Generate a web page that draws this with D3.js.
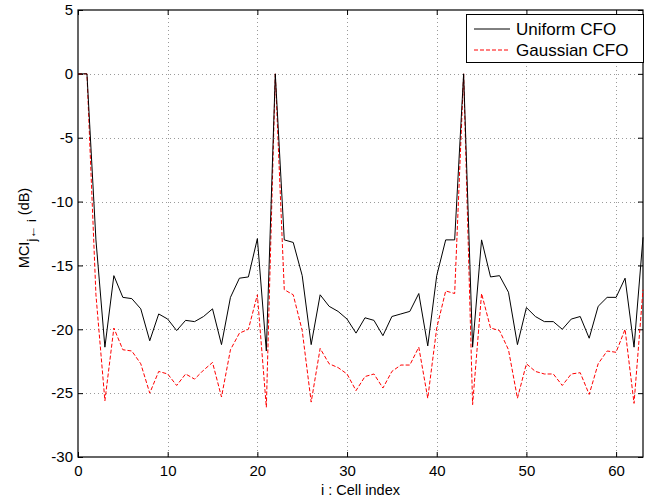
<!DOCTYPE html>
<html lang="en">
<head>
  <meta charset="UTF-8">
  <title></title>
  <style>
    html, body {
      margin: 0;
      background: #fff;
      overflow: hidden;
      width: 100%;
      height: 100%;
    }
    svg {
      font-family: "Liberation Sans", Arial, sans-serif;
    }
  </style>
</head>
<body>
  <svg width="656" height="504"></svg>
</body>
<script src="https://d3js.org/d3.v7.min.js"></script>
<script type="text/javascript">
  // cell index 0..63
  const cells = d3.range(0, 64)

  const uniform = [
    0, 0, -13.0, -21.4, -15.8, -17.5, -17.6, -18.4, -20.9, -18.8,
    -19.2, -20.1, -19.3, -19.4, -19.0, -18.4, -21.2, -17.5, -16.0, -15.9,
    -12.9, -21.7, 0, -13.0, -13.2, -15.8, -21.2, -17.3, -18.2, -18.6,
    -19.2, -20.3, -19.1, -19.3, -20.5, -19.0, -18.8, -18.6, -17.2, -21.3,
    -15.8, -13.0, -13.0, 0, -21.4, -13.0, -15.9, -15.8, -17.1, -21.2,
    -18.3, -19.0, -19.4, -19.4, -20.0, -19.2, -19.0, -20.7, -18.2, -17.5,
    -17.5, -16.0, -21.4, -12.8
  ]

  const gaussian = [
    0, 0, -17.3, -25.6, -19.9, -21.6, -21.7, -22.7, -25.0, -23.3,
    -23.5, -24.4, -23.5, -23.9, -23.2, -22.6, -25.3, -21.6, -20.3, -20.0,
    -17.3, -26.1, 0, -16.9, -17.3, -20.1, -25.7, -21.5, -22.7, -23.0,
    -23.5, -24.8, -23.7, -23.5, -24.6, -23.3, -22.8, -22.8, -21.4, -25.4,
    -19.9, -17.0, -17.2, 0, -25.9, -17.2, -19.9, -20.1, -21.6, -25.4,
    -22.7, -23.3, -23.5, -23.5, -24.4, -23.5, -23.4, -25.1, -22.7, -21.7,
    -21.8, -20.0, -25.8, -16.9
  ]

  const xTicks = [0, 10, 20, 30, 40, 50, 60]
  const yTicks = [5, 0, -5, -10, -15, -20, -25, -30]
  const seriesNames = ['Uniform CFO', 'Gaussian CFO']

  const svg = d3.select('svg')
  const pl = 78, pr = 643, pt = 10, pb = 457

  const x = d3.scaleLinear().domain([0, 63]).range([pl, pr])
  const y = d3.scaleLinear().domain([-30, 5]).range([pb, pt])

  // dotted grid
  const grid = svg.append('g')
  grid.selectAll('line.gx')
    .data(xTicks.filter(d => d > 0))
    .enter().append('line')
    .attr('x1', d => Math.round(x(d)) + 0.5).attr('x2', d => Math.round(x(d)) + 0.5)
    .attr('y1', pt).attr('y2', pb)
    .attr('stroke', '#555').attr('stroke-width', 0.6)
    .attr('stroke-dasharray', '1,3')
  grid.selectAll('line.gy')
    .data(yTicks.filter(d => d > -30 && d < 5))
    .enter().append('line')
    .attr('y1', d => Math.round(y(d)) + 0.5).attr('y2', d => Math.round(y(d)) + 0.5)
    .attr('x1', pl).attr('x2', pr)
    .attr('stroke', '#555').attr('stroke-width', 0.6)
    .attr('stroke-dasharray', '1,3')

  // axes (ticks inward, mirrored on top and right)
  const axisFont = g => g.selectAll('text')
    .attr('font-family', '"Liberation Sans", Arial, sans-serif')
    .attr('font-size', 15).attr('fill', '#000')

  svg.append('g')
    .attr('transform', `translate(0,${pb})`)
    .call(d3.axisBottom(x).tickValues(xTicks).tickSizeInner(-5).tickSizeOuter(0).tickPadding(8))
    .call(axisFont)
    .call(g => g.select('.domain').remove())

  svg.append('g')
    .attr('transform', `translate(0,${pt})`)
    .call(d3.axisTop(x).tickValues(xTicks).tickSizeInner(-5).tickSizeOuter(0).tickFormat(''))
    .call(g => g.select('.domain').remove())

  svg.append('g')
    .attr('transform', `translate(${pl},0)`)
    .call(d3.axisLeft(y).tickValues(yTicks).tickSizeInner(-5).tickSizeOuter(0).tickPadding(5)
      .tickFormat(d => String(d)))
    .call(axisFont)
    .call(g => g.select('.domain').remove())

  svg.append('g')
    .attr('transform', `translate(${pr},0)`)
    .call(d3.axisRight(y).tickValues(yTicks).tickSizeInner(-5).tickSizeOuter(0).tickFormat(''))
    .call(g => g.select('.domain').remove())

  svg.append('rect')
    .attr('x', pl).attr('y', pt)
    .attr('width', pr - pl).attr('height', pb - pt)
    .attr('fill', 'none').attr('stroke', '#000').attr('stroke-width', 1.2)

  // lines
  const line = data => d3.line()
    .x(d => x(d))
    .y(d => y(data[d]))(cells)

  svg.append('path')
    .attr('d', line(gaussian))
    .attr('fill', 'none').attr('stroke', '#ff0000')
    .attr('stroke-width', 1).attr('stroke-dasharray', '4,2')

  svg.append('path')
    .attr('d', line(uniform))
    .attr('fill', 'none').attr('stroke', '#000')
    .attr('stroke-width', 1)

  // axis labels
  svg.append('text')
    .attr('x', (pl + pr) / 2).attr('y', 495)
    .attr('text-anchor', 'middle').attr('font-size', 14.5)
    .text('i : Cell index')

  const yl = svg.append('text')
    .attr('transform', `translate(28.5,228) rotate(-90)`)
    .attr('text-anchor', 'middle').attr('font-size', 14.5)
  yl.append('tspan').text('MCI')
  yl.append('tspan').attr('dy', 7).attr('font-size', 13).text('j\u2190 i')
  yl.append('tspan').attr('dy', -7).text(' (dB)')

  // legend
  const lg = svg.append('g')
  lg.append('rect')
    .attr('x', 466.5).attr('y', 14.5).attr('width', 177).attr('height', 48)
    .attr('fill', '#fff').attr('stroke', '#000').attr('stroke-width', 1)
  const items = lg.selectAll('g.item')
    .data(seriesNames)
    .enter().append('g')
    .attr('transform', (d, i) => `translate(0,${29 + i * 21})`)
  items.append('line')
    .attr('x1', 474).attr('x2', 510)
    .attr('stroke', (d, i) => i ? '#ff0000' : '#000')
    .attr('stroke-dasharray', (d, i) => i ? '4,2' : null)
  items.append('text')
    .attr('x', 516).attr('y', 6)
    .attr('font-size', 17)
    .text(d => d)
</script>
</html>
